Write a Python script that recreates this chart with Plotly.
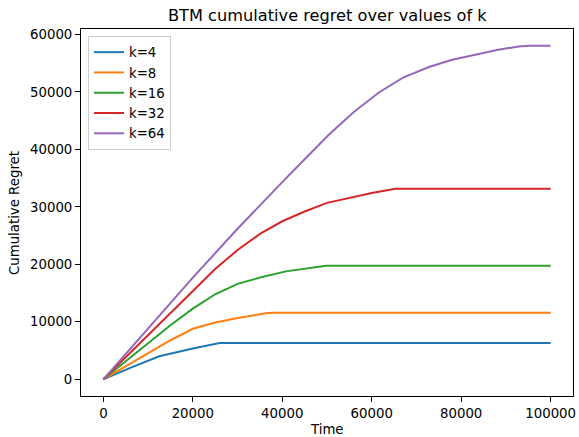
import plotly.graph_objects as go

# ---- data ----
labels = ["k=4", "k=8", "k=16", "k=32", "k=64"]
colors = ["#1f77b4", "#ff7f0e", "#2ca02c", "#d62728", "#9467bd"]

t_k4 = [0, 6000, 12500, 16000, 20000, 26000, 100000]
r_k4 = [0, 2000, 4000, 4650, 5350, 6300, 6300]

t_k8 = [0, 10000, 15000, 20000, 25000, 30360, 34000, 36300, 37800, 100000]
r_k8 = [0, 4600, 6800, 8800, 9900, 10700, 11250, 11500, 11600, 11600]

t_k16 = [0, 10000, 15000, 20000, 25000, 30000, 35000, 40800, 47500, 49800, 100000]
r_k16 = [0, 6300, 9400, 12300, 14800, 16600, 17700, 18780, 19600, 19750, 19750]

t_k32 = [0, 10000, 20000, 25000, 30000, 35000, 40000, 45000, 50000, 55000, 60000, 65300, 100000]
r_k32 = [0, 7750, 15500, 19200, 22500, 25300, 27500, 29200, 30700, 31600, 32400, 33150, 33150]

t_k64 = [0, 10000, 20000, 30000, 35000, 40000, 45000, 50450, 56000, 61600, 67000, 72770, 78000, 83930, 88000, 92860, 95000, 100000]
r_k64 = [0, 8900, 17700, 26200, 30300, 34300, 38300, 42600, 46500, 49900, 52500, 54330, 55600, 56650, 57300, 57920, 58050, 58050]

series_t = [t_k4, t_k8, t_k16, t_k32, t_k64]
series_r = [r_k4, r_k8, r_k16, r_k32, r_k64]

x_ticks = [0, 20000, 40000, 60000, 80000, 100000]
y_ticks = [0, 10000, 20000, 30000, 40000, 50000, 60000]

FONT = "DejaVu Sans"

fig = go.Figure()
for lab, col, t, r in zip(labels, colors, series_t, series_r):
    fig.add_trace(go.Scatter(x=t, y=r, mode="lines", name=lab,
                             line=dict(color=col, width=2)))

axis_common = dict(
    showline=True, linecolor="black", linewidth=1, mirror=True,
    ticks="outside", ticklen=5, tickwidth=1, tickcolor="black",
    showgrid=False, zeroline=False, tickformat="d", automargin=False,
    tickfont=dict(family=FONT, size=13.3, color="black"),
)

ymax = max(max(r) for r in series_r)
pad = ymax * 0.05

W, H = 579, 437
L, R, T, B = 81, 6, 29, 41

fig.update_layout(
    width=W, height=H,
    margin=dict(l=L, r=R, t=T, b=B),
    paper_bgcolor="white", plot_bgcolor="white",
    font=dict(family=FONT, size=13.3, color="black"),
    xaxis=dict(range=[-5000, 105000], tickvals=x_ticks, **axis_common),
    yaxis=dict(range=[-pad, ymax + pad], tickvals=y_ticks, **axis_common),
    legend=dict(x=(88 - L) / (W - L - R), y=(H - B - 36) / (H - T - B),
                xanchor="left", yanchor="top",
                bgcolor="rgba(255,255,255,0.8)", bordercolor="#cccccc",
                borderwidth=1, itemwidth=30,
                font=dict(family=FONT, size=13.3, color="black")),
    showlegend=True,
    annotations=[
        dict(text="BTM cumulative regret over values of k", xref="paper", yref="paper",
             x=0.5, y=(H - B - 15) / (H - T - B), xanchor="center", yanchor="middle",
             showarrow=False, font=dict(family=FONT, size=16.2, color="black")),
        dict(text="Time", xref="paper", yref="paper",
             x=0.5, y=(H - B - 429.5) / (H - T - B), xanchor="center", yanchor="middle",
             showarrow=False, font=dict(family=FONT, size=13.3, color="black")),
        dict(text="Cumulative Regret", xref="paper", yref="paper", textangle=-90,
             x=(14 - L) / (W - L - R), y=(H - B - 213) / (H - T - B),
             xanchor="center", yanchor="middle",
             showarrow=False, font=dict(family=FONT, size=13.3, color="black")),
    ],
)

fig.write_html("out.html", config={"displayModeBar": False},
               post_script="document.body.style.margin='0';document.body.style.overflow='hidden';")
